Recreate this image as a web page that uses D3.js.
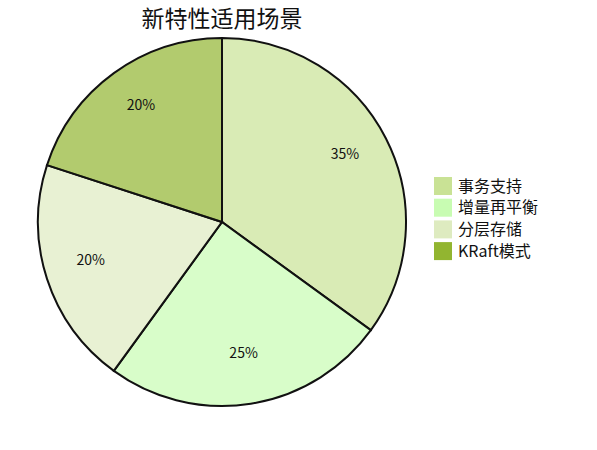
<!DOCTYPE html>
<html lang="zh">
<head>
  <meta charset="UTF-8" />
  <title>新特性适用场景</title>
  <script src="https://d3js.org/d3.v7.min.js"></script>
  <style>
    body { margin: 0; background: #fff; font-family: 'Noto Sans CJK SC', 'Noto Sans', sans-serif; }
    .slice { stroke: #111; stroke-width: 2px; }
    .label { font-size: 14px; fill: #111; text-anchor: middle; }
    .legend text { font-size: 16px; fill: #111; }
  </style>
</head>
<body>
  <svg id="chart" width="597" height="450"></svg>
  <script>
    // Data
    const categories = ["事务支持", "增量再平衡", "分层存储", "KRaft模式"];
    const values = [35, 25, 20, 20];
    const colors = ["#c9e295", "#c8fcb2", "#deebc0", "#92b530"];

    const svg = d3.select("#chart");
    const cx = 222, cy = 222, radius = 184;

    svg.append("text")
      .attr("x", cx)
      .attr("y", 27)
      .attr("text-anchor", "middle")
      .attr("font-size", "23px")
      .attr("fill", "#111")
      .text("新特性适用场景");

    const pie = d3.pie().sort(null).value(d => d);
    const arc = d3.arc().innerRadius(0).outerRadius(radius);
    const labelArc = d3.arc().innerRadius(radius * 0.75).outerRadius(radius * 0.75);
    const arcs = pie(values);

    const g = svg.append("g").attr("transform", `translate(${cx},${cy})`);

    g.selectAll(".slice")
      .data(arcs)
      .enter()
      .append("path")
      .attr("class", "slice")
      .attr("d", arc)
      .attr("fill", (d, i) => colors[i])
      .attr("fill-opacity", 0.7);

    g.selectAll(".label")
      .data(arcs)
      .enter()
      .append("text")
      .attr("class", "label")
      .attr("transform", d => `translate(${labelArc.centroid(d)})`)
      .text(d => d.data + "%");

    // Legend
    const legend = svg.append("g").attr("class", "legend")
      .attr("transform", "translate(434,177)");

    const rows = legend.selectAll("g")
      .data(categories)
      .enter()
      .append("g")
      .attr("transform", (d, i) => `translate(0,${i * 21.7})`);

    rows.append("rect")
      .attr("width", 18)
      .attr("height", 18)
      .attr("fill", (d, i) => colors[i]);

    rows.append("text")
      .attr("x", 24)
      .attr("y", 9)
      .attr("dy", "0.35em")
      .text(d => d);
  </script>
</body>
</html>
